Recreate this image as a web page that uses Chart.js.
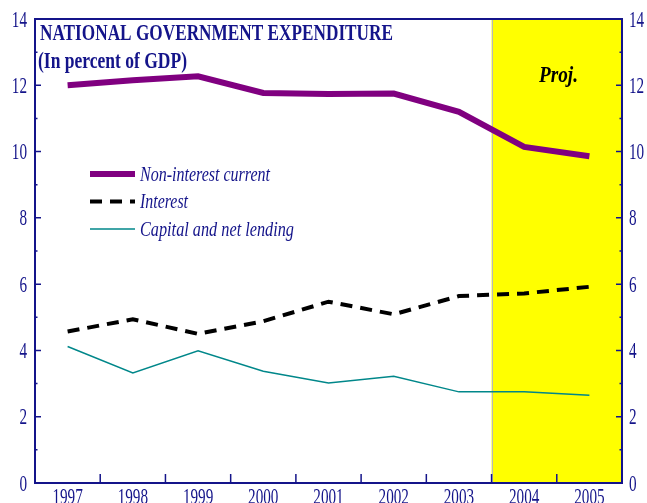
<!DOCTYPE html>
<html>
<head>
<meta charset="utf-8">
<script src="https://cdn.jsdelivr.net/npm/chart.js@4/dist/chart.umd.min.js"></script>
<style>
  html, body { margin: 0; padding: 0; background: #ffffff; }
  #c { display: block; }
</style>
</head>
<body>
<canvas id="c" width="647" height="503"></canvas>
<script>
// ---- Data ----
const years = ['1997', '1998', '1999', '2000', '2001', '2002', '2003', '2004', '2005'];
const nonInterestCurrent = [12.0, 12.15, 12.27, 11.77, 11.74, 11.75, 11.2, 10.14, 9.86];
const interest = [4.57, 4.94, 4.5, 4.88, 5.47, 5.09, 5.64, 5.72, 5.92];
const capitalNetLending = [4.12, 3.32, 3.99, 3.37, 3.02, 3.22, 2.75, 2.75, 2.65];
const projectionYears = ['2004', '2005'];
const seriesNames = ['Non-interest current', 'Interest', 'Capital and net lending'];
const titleLines = ['NATIONAL GOVERNMENT EXPENDITURE', '(In percent of GDP)'];
const projLabel = 'Proj.';
const yMin = 0, yMax = 14, yStep = 2;

const NAVY = '#14148a';
const PURPLE = '#800080';
const TEAL = '#00878a';
const LABEL_FONT = '23px "Liberation Serif"';
const LABEL_SX = 0.66;

function drawText(ctx, text, x, y, font, color, width, align, sxFixed) {
  ctx.save();
  ctx.font = font;
  const w = ctx.measureText(text).width;
  const sx = sxFixed ? sxFixed : (width ? width / w : 1);
  const sw = w * sx;
  let x0 = x;
  if (align === 'right') x0 = x - sw;
  else if (align === 'center') x0 = x - sw / 2;
  ctx.translate(x0, y);
  ctx.scale(sx, 1);
  ctx.fillStyle = color;
  ctx.textBaseline = 'alphabetic';
  ctx.textAlign = 'left';
  ctx.fillText(text, 0, 0);
  ctx.restore();
}

const decor = {
  id: 'decor',
  beforeDraw(chart) {
    const ctx = chart.ctx;
    const a = chart.chartArea;
    const xs = chart.scales.x;
    ctx.save();
    ctx.fillStyle = '#ffffff';
    ctx.fillRect(0, 0, chart.width, chart.height);
    // projection band
    const i0 = years.indexOf(projectionYears[0]);
    const xL = (xs.getPixelForValue(i0 - 1) + xs.getPixelForValue(i0)) / 2;
    ctx.fillStyle = '#ffff00';
    ctx.fillRect(xL, a.top, a.right - xL, a.bottom - a.top);
    ctx.strokeStyle = '#b8b8b8';
    ctx.lineWidth = 1;
    ctx.beginPath();
    ctx.moveTo(Math.round(xL) + 0.5, a.top);
    ctx.lineTo(Math.round(xL) + 0.5, a.bottom);
    ctx.stroke();
    ctx.restore();
  },
  afterDraw(chart) {
    const ctx = chart.ctx;
    const a = chart.chartArea;
    const xs = chart.scales.x, ys = chart.scales.y, ys2 = chart.scales.y2;
    ctx.save();
    ctx.strokeStyle = NAVY;
    // top border
    ctx.lineWidth = 2;
    ctx.beginPath();
    ctx.moveTo(a.left, a.top);
    ctx.lineTo(a.right, a.top);
    ctx.stroke();
    // y ticks (inward), major and minor
    ctx.lineWidth = 1.5;
    for (let v = yMin; v <= yMax; v += 1) {
      const py = ys.getPixelForValue(v);
      const len = v % yStep === 0 ? 6 : 2.5;
      ctx.beginPath();
      ctx.moveTo(a.left, py); ctx.lineTo(a.left + len, py);
      ctx.moveTo(a.right, py); ctx.lineTo(a.right - len, py);
      ctx.stroke();
    }
    // x ticks between categories (inward)
    for (let i = 1; i < years.length; i++) {
      const px = (xs.getPixelForValue(i - 1) + xs.getPixelForValue(i)) / 2;
      ctx.beginPath();
      ctx.moveTo(px, a.bottom); ctx.lineTo(px, a.bottom - 9);
      ctx.stroke();
    }
    ctx.restore();

    // tick labels (condensed serif), from the scales' own ticks
    ys.ticks.forEach((t, i) => {
      const py = ys.getPixelForTick(i);
      drawText(ctx, String(t.label), 27, py + 7.5, LABEL_FONT, NAVY, null, 'right', LABEL_SX);
    });
    ys2.ticks.forEach((t, i) => {
      const py = ys2.getPixelForTick(i);
      drawText(ctx, String(t.label), 629, py + 7.5, LABEL_FONT, NAVY, null, 'left', LABEL_SX);
    });
    xs.ticks.forEach((t, i) => {
      const px = xs.getPixelForTick(i);
      drawText(ctx, String(xs.getLabelForValue(t.value)), px, 504, LABEL_FONT, NAVY, null, 'center', LABEL_SX);
    });

    // title
    drawText(ctx, titleLines[0], 40, 40, 'bold 23px "Liberation Serif"', NAVY, 353);
    drawText(ctx, titleLines[1], 38, 68, 'bold 23px "Liberation Serif"', NAVY, 149);
    // projection label
    drawText(ctx, projLabel, 539, 82, 'italic bold 24px "Liberation Serif"', '#000000', 39);

    // legend
    const rows = [
      { y: 174, color: PURPLE, width: 6, dash: [], tw: 130, ty: 181 },
      { y: 201.5, color: '#000000', width: 4, dash: [12, 8], tw: 48, ty: 208 },
      { y: 229, color: TEAL, width: 1.5, dash: [], tw: 154, ty: 236 }
    ];
    rows.forEach((r, i) => {
      ctx.save();
      ctx.strokeStyle = r.color;
      ctx.lineWidth = r.width;
      ctx.setLineDash(r.dash);
      ctx.beginPath();
      ctx.moveTo(90, r.y); ctx.lineTo(135, r.y);
      ctx.stroke();
      ctx.restore();
      drawText(ctx, seriesNames[i], 140, r.ty, 'italic 21px "Liberation Serif"', NAVY, r.tw);
    });
  }
};

new Chart(document.getElementById('c'), {
  type: 'line',
  data: {
    labels: years,
    datasets: [
      { label: seriesNames[0], data: nonInterestCurrent, borderColor: PURPLE, borderWidth: 6, pointRadius: 0, tension: 0, yAxisID: 'y' },
      { label: seriesNames[1], data: interest, borderColor: '#000000', borderWidth: 4, borderDash: [12, 8], pointRadius: 0, tension: 0, yAxisID: 'y' },
      { label: seriesNames[2], data: capitalNetLending, borderColor: TEAL, borderWidth: 1.5, pointRadius: 0, tension: 0, yAxisID: 'y' }
    ]
  },
  options: {
    responsive: false,
    animation: false,
    layout: { padding: { top: 19, left: 0, right: 0, bottom: 0 } },
    plugins: { legend: { display: false }, tooltip: { enabled: false }, title: { display: false } },
    scales: {
      x: {
        type: 'category',
        offset: true,
        grid: { display: false, drawTicks: false },
        border: { display: true, color: NAVY, width: 2 },
        ticks: { display: false, autoSkip: false },
        afterFit(s) { s.height = 20; }
      },
      y: {
        position: 'left',
        min: yMin, max: yMax,
        grid: { display: false, drawTicks: false },
        border: { display: true, color: NAVY, width: 2 },
        ticks: { display: false, stepSize: yStep },
        afterFit(s) { s.width = 35; }
      },
      y2: {
        position: 'right',
        min: yMin, max: yMax,
        grid: { display: false, drawTicks: false },
        border: { display: true, color: NAVY, width: 2 },
        ticks: { display: false, stepSize: yStep },
        afterFit(s) { s.width = 25; }
      }
    }
  },
  plugins: [decor]
});
</script>
</body>
</html>
